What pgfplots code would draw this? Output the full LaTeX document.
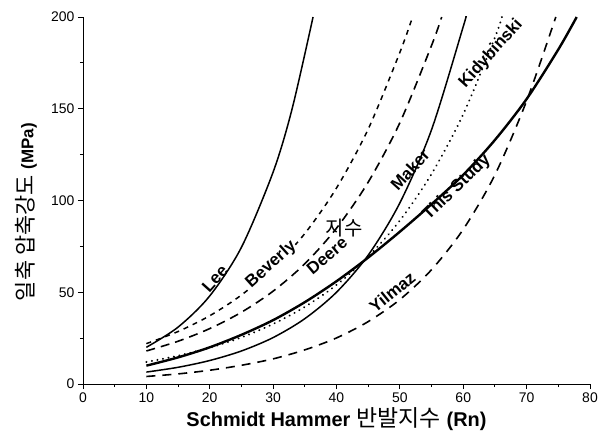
\documentclass[border=0pt]{standalone}
\usepackage{fontspec}
\setmainfont{Liberation Sans}
\newfontfamily\kr{Noto Sans CJK KR}
\usepackage{pgfplots}
\pgfplotsset{compat=1.18}
\begin{document}
\begin{tikzpicture}
\begin{axis}[name=ax, scale only axis, width=507bp, height=367bp,
 xmin=0, xmax=80, ymin=0, ymax=200,
 axis lines=left, axis line style={-, line width=1pt},
 xtick={0,10,...,80}, ytick={0,50,...,200},
 minor x tick num=1, minor y tick num=1,
 tick align=outside, major tick length=5bp, minor tick length=3bp,
 tick style={line width=0.9pt, black},
 ticklabel style={font=\fontsize{14}{14}\selectfont},
 /pgf/number format/assume math mode=true,
 every axis plot/.append style={black, smooth},
 ]
% Lee
\addplot[line width=1.5bp] coordinates {(10,20) (15,31) (20,48) (25,74.5) (30,115.5) (33,150) (36.3,200)};
% Beverly
\addplot[line width=1.5bp, dash pattern=on 5bp off 5bp] coordinates {(10,22) (15,28.6) (20,37.2) (25,48.5) (30,63.1) (35,82) (40,106.8) (45,138.9) (50,180.7) (52,200)};
% Deere
\addplot[line width=1.6bp, dash pattern=on 9bp off 6bp] coordinates {(10,18) (15,23.3) (20,30.2) (25,39.1) (30,50.6) (35,65.5) (40,84.9) (45,110) (50,142.4) (55,184.5) (56.6,200)};
% Maker
\addplot[line width=1.5bp] coordinates {(10,6.5) (15,9.1) (20,12.8) (25,18) (30,25.3) (35,35.6) (40,50) (45,70.2) (50,98.7) (55,138.6) (60,194.8) (60.4,200)};
% Kidybinski
\addplot[line width=2.1bp, line cap=round, dash pattern=on 0.1bp off 5.5bp] coordinates {(10,12) (15,15.4) (20,19.8) (25,25.4) (30,32.7) (35,42) (40,54) (45,69.4) (50,89.1) (55,114.5) (60,147) (65,188.9) (66.1,200)};
% This Study
\addplot[line width=2.4bp] coordinates {(10,10) (15,14.5) (20,20) (25,26.8) (30,34.8) (35,44.6) (40,56) (45,68.9) (50,83) (55,98) (60,114) (65,133) (70,155.3) (75,182.3) (77.9,200)};
% Yilmaz
\addplot[line width=1.6bp, dash pattern=on 9bp off 7bp] coordinates {(10,4.1) (15,5.5) (20,7.5) (25,10.2) (30,13.7) (35,18.6) (40,25.1) (45,34) (50,46) (55,62.3) (60,84.3) (65,114) (70,154.3) (74.6,200)};

\begin{scope}[every node/.style={font=\bfseries\fontsize{17}{17}\selectfont, inner sep=0.5pt}]
\node[rotate=48] at (axis cs:20.8,57.5) {Lee};
\node[rotate=42, fill=white] at (axis cs:29.7,65) {Beverly};
\node[rotate=40, fill=white] at (axis cs:38.5,70) {Deere};
\node[rotate=48] at (axis cs:51.6,117) {Maker};
\node[rotate=48] at (axis cs:64.4,180) {Kidybinski};
\node[rotate=44] at (axis cs:59,107) {This Study};
\node[rotate=39] at (axis cs:48.8,50) {Yilmaz};
\end{scope}
\node[font=\kr\fontsize{20}{20}\selectfont] at (axis cs:41.2,85) {지수};
\end{axis}
\node[rotate=90] at ([xshift=-57bp, yshift=172bp]ax.south west) {{\kr\fontsize{22}{22}\selectfont 일축\hspace{5bp}압축강도}\hspace{6bp}{\bfseries\fontsize{17}{17}\selectfont (MPa)}};
\node at ([yshift=-35bp]ax.south) {{\bfseries\fontsize{20}{20}\selectfont Schmidt Hammer}\hspace{6bp}{\kr\fontsize{23}{23}\selectfont 반발지수}\hspace{6bp}{\bfseries\fontsize{20}{20}\selectfont (Rn)}};
\pgfresetboundingbox
\path[use as bounding box] ([xshift=-83bp,yshift=-61bp]ax.south west) rectangle ([xshift=13bp,yshift=17bp]ax.north east);
\end{tikzpicture}
\end{document}
